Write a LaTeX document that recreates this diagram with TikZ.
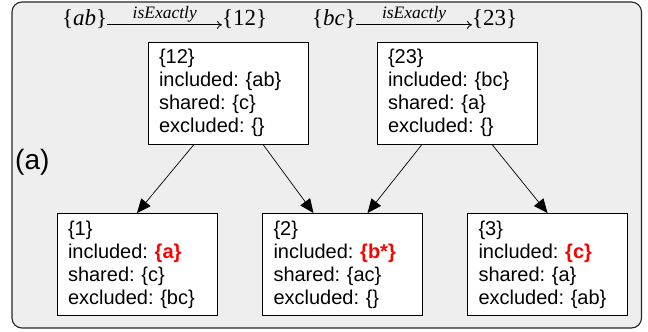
\documentclass[tikz,border=0pt]{standalone}
\usepackage{fontspec}
\setmainfont{Liberation Sans}
\newfontfamily\tnr{Liberation Serif}
\usetikzlibrary{arrows.meta}
\definecolor{panel}{RGB}{238,238,238}
\definecolor{hot}{RGB}{255,0,0}
\newcommand{\hl}[1]{\textcolor{hot}{\textbf{#1}}}
\frenchspacing

\begin{document}
\begin{tikzpicture}[x=1pt,y=-1pt,
  attrbox/.style={draw=black, line width=0.9pt, fill=white,
    minimum width=160pt, minimum height=102pt, text width=138pt,
    inner xsep=11pt, inner ysep=0pt, align=left,
    font=\fontsize{20}{23}\selectfont},
  flow/.style={-{Triangle[length=14pt,width=12pt]}, line width=0.7pt},
  setlbl/.style={inner sep=0pt, font=\tnr\fontsize{23}{27}\selectfont},
  maparrow/.style={-{To[length=5pt,width=8pt]}, line width=0.8pt},
  mapname/.style={inner sep=2.5pt, font=\tnr\itshape\fontsize{17.5}{20}\selectfont},
]
\useasboundingbox (0,0) rectangle (648,332);
% grey panel
\draw[fill=panel, draw=black!85, line width=1.1pt, rounded corners=10pt]
  (12,2) rectangle (641.5,328);

% set mappings along the top
\node[setlbl, anchor=base west] (ab)  at (62,25)  {\{\textit{ab}\}};
\node[setlbl, anchor=base west] (t12) at (222,25) {\{12\}};
\node[setlbl, anchor=base west] (bc)  at (312,25) {\{\textit{bc}\}};
\node[setlbl, anchor=base west] (t23) at (472,25) {\{23\}};
\draw[maparrow] ([yshift=-2.5pt]ab.mid east) -- ([yshift=-2.5pt]t12.mid west)
  node[mapname, midway, above] {isExactly};
\draw[maparrow] ([yshift=-2.5pt]bc.mid east) -- ([yshift=-2.5pt]t23.mid west)
  node[mapname, midway, above] {isExactly};

% panel tag
\node[inner sep=0pt, anchor=west, font=\fontsize{28}{30}\selectfont] (tag) at (15,162.5) {(a)};

% upper partitions
\node[attrbox] (n12) at (228,93)
  {\{12\}\\included: \{ab\}\\shared: \{c\}\\excluded: \{\}};
\node[attrbox] (n23) at (457,93)
  {\{23\}\\included: \{bc\}\\shared: \{a\}\\excluded: \{\}};

% lower partitions
\node[attrbox] (n1) at (137,264.5)
  {\{1\}\\included: \hl{\{a\}}\\shared: \{c\}\\excluded: \{bc\}};
\node[attrbox] (n2) at (342.5,264.5)
  {\{2\}\\included: \hl{\{b*\}}\\shared: \{ac\}\\excluded: \{\}};
\node[attrbox] (n3) at (547.5,264.5)
  {\{3\}\\included: \hl{\{c\}}\\shared: \{a\}\\excluded: \{ab\}};

% refinement edges
\draw[flow] ([xshift=-34pt]n12.south) -- (n1.north);
\draw[flow] ([xshift=35pt]n12.south) -- ([xshift=-29pt]n2.north);
\draw[flow] ([xshift=-35pt]n23.south) -- ([xshift=25pt]n2.north);
\draw[flow] ([xshift=35pt]n23.south) -- (n3.north);
\end{tikzpicture}
\end{document}
